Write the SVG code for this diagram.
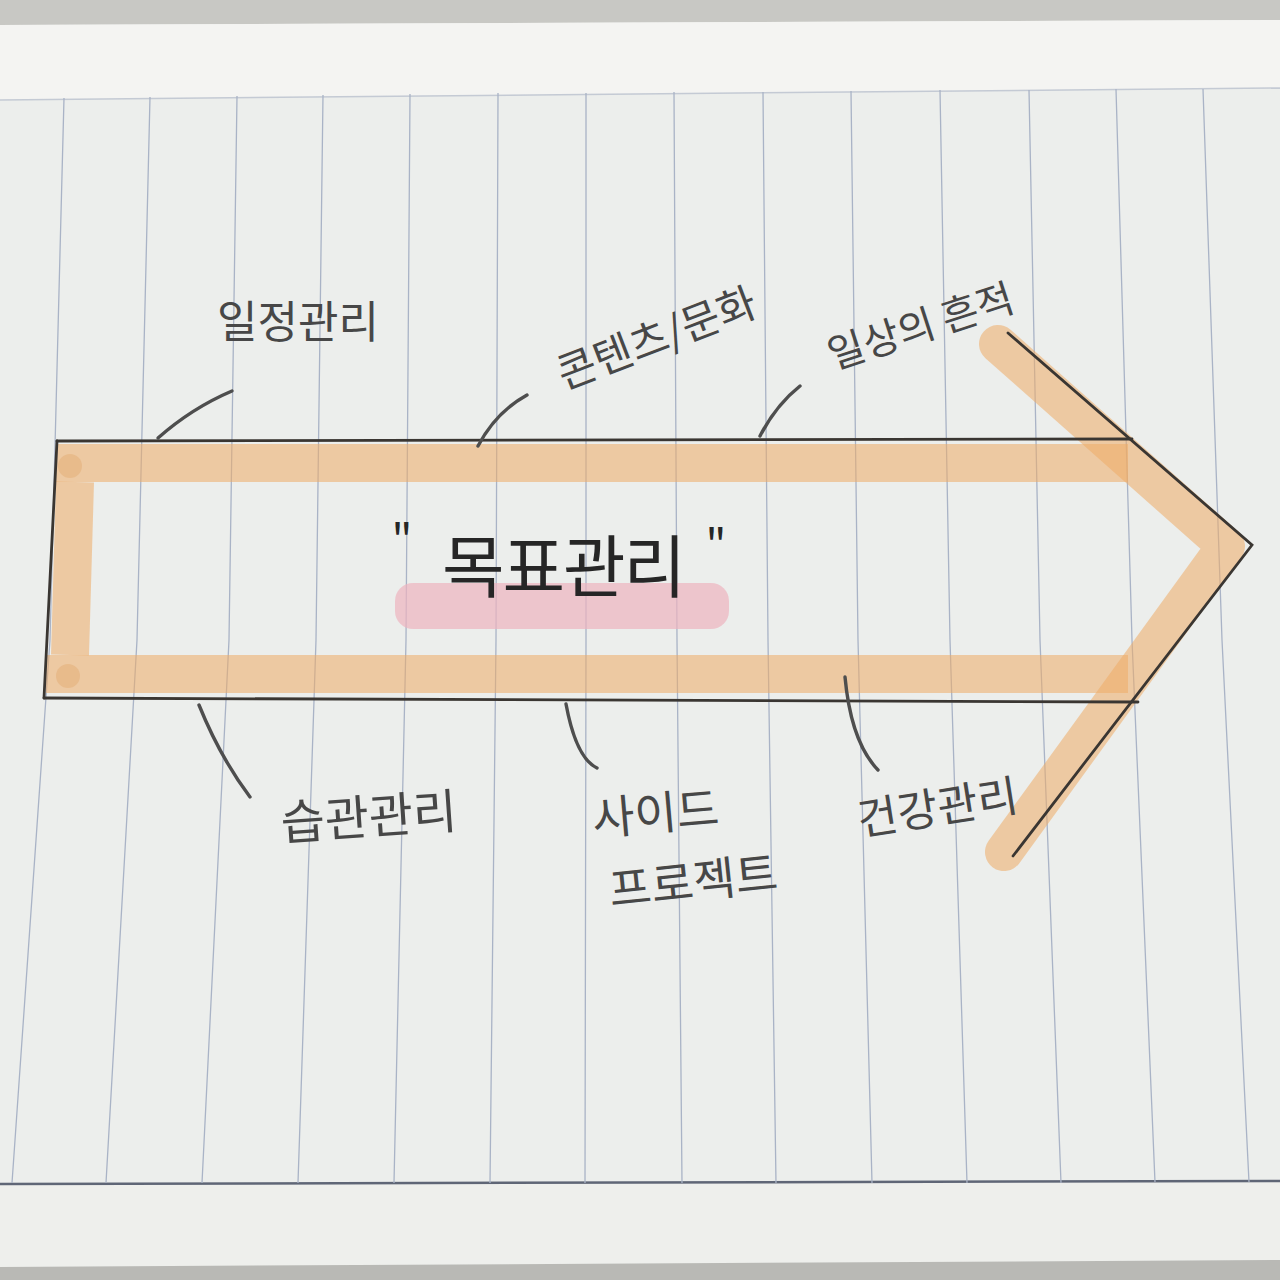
<svg xmlns="http://www.w3.org/2000/svg" width="1280" height="1280" viewBox="0 0 1280 1280">
<defs>
<style>
.rule{fill:none;stroke:#a9b3c6;stroke-width:1.3}
.ink{fill:none;stroke:#3a3632;stroke-width:2.8;stroke-linecap:round}
.marker{fill:none;stroke:#eeab66;stroke-opacity:0.55;stroke-width:38;stroke-linecap:butt;stroke-linejoin:round}
.conn{fill:none;stroke:#4e4e4e;stroke-width:3.4;stroke-linecap:round}
.lbl{font-family:"Noto Sans CJK KR","Noto Sans",sans-serif;font-weight:400;fill:#474747;text-anchor:middle}
.title{font-family:"Noto Sans CJK KR","Noto Sans",sans-serif;font-weight:400;fill:#262626;text-anchor:middle}
</style>
</defs>
<!-- paper background -->
<rect x="0" y="0" width="1280" height="1280" fill="#eceeec"/>
<polygon points="0,0 1280,0 1280,20 0,25" fill="#c8c8c4"/>
<polygon points="0,25 1280,20 1280,88 0,100" fill="#f4f4f2"/>
<polygon points="0,1185 1280,1182 1280,1260 0,1267" fill="#eeefec"/>
<polygon points="0,1267 1280,1260 1280,1280 0,1280" fill="#b9b9b5"/>
<line x1="0" y1="100" x2="1280" y2="88" stroke="#c4cad4" stroke-width="1.5"/>
<line x1="0" y1="1184" x2="1280" y2="1181" stroke="#5f6676" stroke-width="2.5"/>
<g id="rules">
<polyline class="rule" points="64,98 50,640 12,1183"/>
<polyline class="rule" points="150,97 137,640 106,1183"/>
<polyline class="rule" points="237,96 229,640 202,1183"/>
<polyline class="rule" points="323,95 316,640 298,1183"/>
<polyline class="rule" points="410,94 406,640 394,1183"/>
<polyline class="rule" points="498,93 496,640 490,1183"/>
<polyline class="rule" points="586,93 586,640 585,1183"/>
<polyline class="rule" points="674,92 677,640 682,1183"/>
<polyline class="rule" points="763,92 768,640 776,1183"/>
<polyline class="rule" points="851,91 858,640 872,1183"/>
<polyline class="rule" points="940,90 950,640 967,1183"/>
<polyline class="rule" points="1029,90 1040,640 1061,1183"/>
<polyline class="rule" points="1116,89 1132,640 1155,1182"/>
<polyline class="rule" points="1203,89 1222,640 1249,1182"/>
</g>
<!-- central node: arrow "목표관리" -->
<g id="node-goal">
<line class="marker" x1="56" y1="463" x2="1128" y2="463" stroke-width="37"/>
<line class="marker" x1="46" y1="674" x2="1128" y2="674" stroke-width="37"/>
<line class="marker" x1="75" y1="482" x2="70" y2="655" stroke-width="40"/>
<circle cx="70" cy="466" r="12" fill="#e0a060" fill-opacity="0.35"/>
<circle cx="68" cy="676" r="12" fill="#e0a060" fill-opacity="0.35"/>
<polyline class="marker" points="998,344 1226,546 1004,852" style="stroke-linecap:round"/>
<rect x="395" y="583" width="334" height="46" rx="18" fill="#eeb3bf" fill-opacity="0.7"/>
<line class="ink" x1="57" y1="441" x2="1132" y2="439"/>
<line class="ink" x1="57" y1="441" x2="44" y2="698"/>
<line class="ink" x1="44" y1="698" x2="1138" y2="702"/>
<polyline class="ink" points="1008,333 1252,545 1013,856" stroke="#5a4a3a" stroke-linejoin="miter"/>
<text class="title" x="402" y="556" font-size="44">"</text>
<text class="title" x="716" y="561" font-size="44">"</text>
<text class="title" x="563" y="592" font-size="68" letter-spacing="-2">목표관리</text>
</g>
<g id="connectors">
<path class="conn" d="M158,438 Q192,408 232,391"/>
<path class="conn" d="M478,446 Q496,412 527,395"/>
<path class="conn" d="M760,436 Q776,405 800,386"/>
<path class="conn" d="M199,705 Q220,757 250,797"/>
<path class="conn" d="M566,704 Q576,758 597,768"/>
<path class="conn" d="M845,677 Q851,742 878,770"/>
</g>
<g id="node-schedule">
<text class="lbl" x="298" y="338" font-size="44">일정관리</text>
</g>
<g id="node-content">
<text class="lbl" x="0" y="0" font-size="42" transform="translate(662,352) rotate(-21)">콘텐츠/문화</text>
</g>
<g id="node-daily">
<text class="lbl" x="0" y="0" font-size="40" transform="translate(925,340) rotate(-18)">일상의 흔적</text>
</g>
<g id="node-habit">
<text class="lbl" x="0" y="0" font-size="48" transform="translate(370,834) rotate(-4)">습관관리</text>
</g>
<g id="node-side">
<text class="lbl" x="0" y="0" font-size="46" transform="translate(657,830) rotate(-5)">사이드</text>
<text class="lbl" x="0" y="0" font-size="46" transform="translate(695,898) rotate(-6)">프로젝트</text>
</g>
<g id="node-health">
<text class="lbl" x="0" y="0" font-size="44" transform="translate(940,823) rotate(-9)">건강관리</text>
</g>
</svg>
